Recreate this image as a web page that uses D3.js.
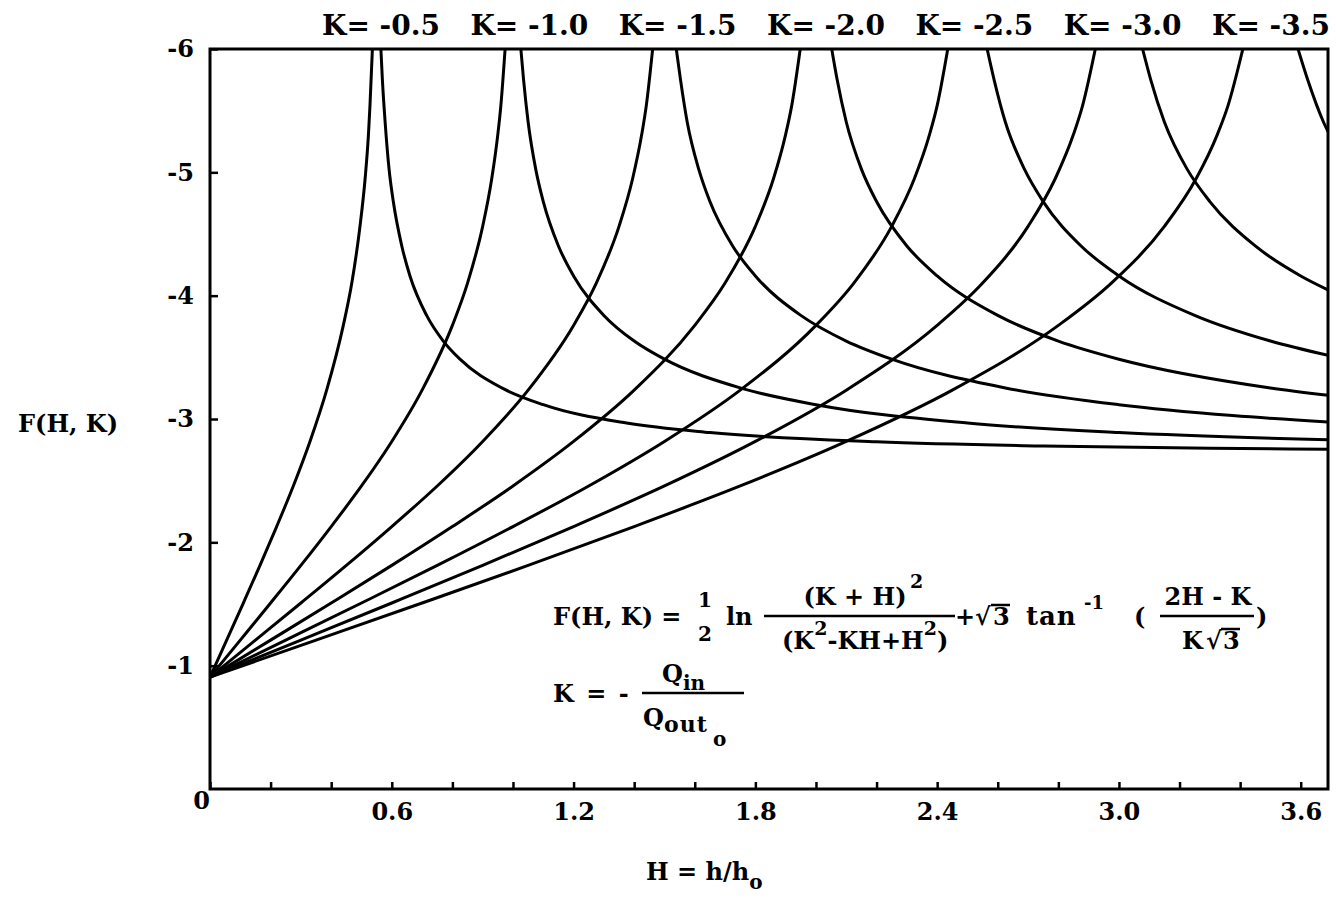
<!DOCTYPE html>
<html>
<head>
<meta charset="utf-8">
<script src="https://cdn.jsdelivr.net/npm/d3@7"></script>
<style>
  body { margin: 0; background: #fff; }
  svg text { font-family: "DejaVu Serif", serif; font-weight: bold; fill: #000; }
</style>
</head>
<body>
<svg id="chart"></svg>
<script>
// K labels along the top
const kLabels = ["K= -0.5", "K= -1.0", "K= -1.5", "K= -2.0", "K= -2.5", "K= -3.0", "K= -3.5"];

// curves, [H, F]: rising branch left of each asymptote, falling branch right of it
const k05Left  = [[0,-0.907],[0.055,-1.207],[0.11,-1.508],[0.165,-1.813],[0.22,-2.128],[0.275,-2.457],[0.33,-2.818],[0.385,-3.234],[0.44,-3.759],[0.468,-4.102],[0.495,-4.562],[0.512,-4.95],[0.523,-5.308],[0.528,-5.541],[0.536,-6.0]];
const k05Right = [[0.564,-6.0],[0.569,-5.75],[0.578,-5.408],[0.591,-5.026],[0.605,-4.763],[0.633,-4.403],[0.66,-4.16],[0.715,-3.84],[0.77,-3.632],[0.825,-3.485],[0.963,-3.252],[1.1,-3.116],[1.375,-2.967],[1.65,-2.89],[2.2,-2.815],[2.75,-2.781],[3.3,-2.763],[3.69,-2.754]];
const k10Left  = [[0,-0.907],[0.1,-1.207],[0.2,-1.508],[0.3,-1.813],[0.4,-2.128],[0.5,-2.457],[0.6,-2.818],[0.7,-3.234],[0.8,-3.759],[0.85,-4.102],[0.9,-4.562],[0.93,-4.95],[0.95,-5.308],[0.96,-5.541],[0.974,-6.0]];
const k10Right = [[1.026,-6.0],[1.035,-5.75],[1.05,-5.408],[1.075,-5.026],[1.1,-4.763],[1.15,-4.403],[1.2,-4.16],[1.3,-3.84],[1.4,-3.632],[1.5,-3.485],[1.75,-3.252],[2.0,-3.116],[2.5,-2.967],[3.0,-2.89],[3.69,-2.832]];
const k15Left  = [[0,-0.907],[0.15,-1.207],[0.3,-1.508],[0.45,-1.813],[0.6,-2.128],[0.75,-2.457],[0.9,-2.818],[1.05,-3.234],[1.2,-3.759],[1.275,-4.102],[1.35,-4.562],[1.395,-4.95],[1.425,-5.308],[1.44,-5.541],[1.461,-6.0]];
const k15Right = [[1.539,-6.0],[1.553,-5.75],[1.575,-5.408],[1.613,-5.026],[1.65,-4.763],[1.725,-4.403],[1.8,-4.16],[1.95,-3.84],[2.1,-3.632],[2.25,-3.485],[2.625,-3.252],[3.0,-3.116],[3.375,-3.028],[3.69,-2.976]];
const k20Left  = [[0,-0.907],[0.2,-1.207],[0.4,-1.508],[0.6,-1.813],[0.8,-2.128],[1.0,-2.457],[1.2,-2.818],[1.4,-3.234],[1.6,-3.759],[1.7,-4.102],[1.8,-4.562],[1.86,-4.95],[1.9,-5.308],[1.92,-5.541],[1.948,-6.0]];
const k20Right = [[2.052,-6.0],[2.07,-5.75],[2.1,-5.408],[2.15,-5.026],[2.2,-4.763],[2.3,-4.403],[2.4,-4.16],[2.6,-3.84],[2.8,-3.632],[3.0,-3.485],[3.5,-3.252],[3.69,-3.192]];
const k25Left  = [[0,-0.907],[0.25,-1.207],[0.5,-1.508],[0.75,-1.813],[1.0,-2.128],[1.25,-2.457],[1.5,-2.818],[1.75,-3.234],[2.0,-3.759],[2.125,-4.102],[2.25,-4.562],[2.325,-4.95],[2.375,-5.308],[2.4,-5.541],[2.435,-6.0]];
const k25Right = [[2.565,-6.0],[2.588,-5.75],[2.625,-5.408],[2.688,-5.026],[2.75,-4.763],[2.875,-4.403],[3.0,-4.16],[3.25,-3.84],[3.5,-3.632],[3.69,-3.516]];
const k30Left  = [[0,-0.907],[0.3,-1.207],[0.6,-1.508],[0.9,-1.813],[1.2,-2.128],[1.5,-2.457],[1.8,-2.818],[2.1,-3.234],[2.4,-3.759],[2.55,-4.102],[2.7,-4.562],[2.79,-4.95],[2.85,-5.308],[2.88,-5.541],[2.922,-6.0]];
const k30Right = [[3.078,-6.0],[3.105,-5.75],[3.15,-5.408],[3.225,-5.026],[3.3,-4.763],[3.45,-4.403],[3.6,-4.16],[3.69,-4.047]];
const k35Left  = [[0,-0.907],[0.35,-1.207],[0.7,-1.508],[1.05,-1.813],[1.4,-2.128],[1.75,-2.457],[2.1,-2.818],[2.45,-3.234],[2.8,-3.759],[2.975,-4.102],[3.15,-4.562],[3.255,-4.95],[3.325,-5.308],[3.36,-5.541],[3.409,-6.0]];
const k35Right = [[3.591,-6.0],[3.623,-5.75],[3.675,-5.408],[3.69,-5.33]];

const curves = [k05Left, k05Right, k10Left, k10Right, k15Left, k15Right, k20Left, k20Right,
                k25Left, k25Right, k30Left, k30Right, k35Left, k35Right];

// axis ticks
const xTicks = [0, 0.2, 0.4, 0.6, 0.8, 1.0, 1.2, 1.4, 1.6, 1.8, 2.0, 2.2, 2.4, 2.6, 2.8, 3.0, 3.2, 3.4, 3.6];
const xTickLabels = ["0", "", "", "0.6", "", "", "1.2", "", "", "1.8", "", "", "2.4", "", "", "3.0", "", "", "3.6"];
const yTicks = [-1, -2, -3, -4, -5, -6];
const yTickLabels = ["-1", "-2", "-3", "-4", "-5", "-6"];

const W = 1336, H = 920;
const margin = {top: 49, right: 8, bottom: 131, left: 210};
const width = W - margin.left - margin.right;
const height = H - margin.top - margin.bottom;

const svg = d3.select("#chart").attr("width", W).attr("height", H);
const chart = svg.append("g").attr("transform", `translate(${margin.left},${margin.top})`);

const x = d3.scaleLinear().domain([0, 3.69]).range([0, width]);
const y = d3.scaleLinear().domain([0, -6]).range([height, 0]);

chart.append("clipPath").attr("id", "plot")
  .append("rect").attr("width", width).attr("height", height);

// axes
const xAxis = d3.axisBottom(x)
  .tickValues(xTicks)
  .tickSizeInner(-7).tickSizeOuter(0).tickPadding(14)
  .tickFormat((d, i) => xTickLabels[i]);
const yAxis = d3.axisLeft(y)
  .tickValues(yTicks)
  .tickSizeInner(-8).tickSizeOuter(0).tickPadding(16)
  .tickFormat((d, i) => yTickLabels[i]);

const gx = chart.append("g").attr("transform", `translate(0,${height})`).call(xAxis);
const gy = chart.append("g").call(yAxis);
[gx, gy].forEach(g => {
  g.select(".domain").remove();
  g.selectAll(".tick line").attr("stroke", "#000").attr("stroke-width", 2.5);
  g.selectAll(".tick text").attr("font-size", 24).attr("font-family", null);
});
gx.selectAll(".tick text").attr("dy", "0.71em");
// the corner "0" sits higher and a little left
gx.selectAll(".tick").filter(d => d === 0).select("text").attr("dx", -9).attr("y", 3);

// frame
chart.append("rect")
  .attr("width", width).attr("height", height)
  .attr("fill", "none").attr("stroke", "#000").attr("stroke-width", 3);

// curves
const line = d3.line()
  .x(d => x(d[0]))
  .y(d => y(d[1]))
  .curve(d3.curveMonotoneX);

chart.append("g").attr("clip-path", "url(#plot)")
  .selectAll("path")
  .data(curves)
  .join("path")
  .attr("d", line)
  .attr("fill", "none")
  .attr("stroke", "#000")
  .attr("stroke-width", 3)
  .attr("stroke-linejoin", "round");

// K labels
const kPos = d3.scalePoint().domain(kLabels).range([381 - margin.left, 1271 - margin.left]);
chart.append("g").selectAll("text")
  .data(kLabels)
  .join("text")
  .attr("x", d => kPos(d))
  .attr("y", -14)
  .attr("text-anchor", "middle")
  .attr("font-size", 28)
  .text(d => d);

// axis titles
svg.append("text").attr("x", 18).attr("y", 432).attr("font-size", 24).text("F(H, K)");
const xt = svg.append("text").attr("x", 646).attr("y", 880).attr("font-size", 24);
xt.append("tspan").text("H = h/h");
xt.append("tspan").attr("font-size", 20).attr("dy", 9).text("o");

// formula annotation
function txt(px, py, s, size, anchor) {
  return svg.append("text").attr("x", px).attr("y", py)
    .attr("font-size", size).attr("text-anchor", anchor || "start").text(s);
}
function bar(x1, x2, py) {
  svg.append("line").attr("x1", x1).attr("x2", x2).attr("y1", py).attr("y2", py)
    .attr("stroke", "#000").attr("stroke-width", 2.5);
}
const b1 = 625;
txt(553, b1, "F(H, K) =", 24);
txt(705, b1 - 18, "1", 20, "middle");
txt(705, b1 + 16, "2", 20, "middle");
txt(726, b1, "ln", 24);
bar(764, 955, b1 - 9);
txt(855, b1 - 20, "(K + H)", 24, "middle");
txt(910, b1 - 37, "2", 19);
const den = svg.append("text").attr("x", 782).attr("y", b1 + 24).attr("font-size", 24);
den.append("tspan").text("(K");
den.append("tspan").attr("font-size", 19).attr("dy", -14).text("2");
den.append("tspan").attr("dy", 14).text("-KH+H");
den.append("tspan").attr("font-size", 19).attr("dy", -14).text("2");
den.append("tspan").attr("dy", 14).text(")");
txt(955, b1, "+", 24);
txt(975, b1, "√", 24);
bar(991, 1010, b1 - 20);
txt(993, b1, "3", 24);
txt(1026, b1, "tan", 26).attr("letter-spacing", 1);
txt(1084, b1 - 16, "-1", 18);
txt(1134, b1, "(", 24);
txt(1208, b1 - 20, "2H - K", 24, "middle");
bar(1160, 1254, b1 - 9);
txt(1182, b1 + 24, "K", 24);
txt(1206, b1 + 24, "√", 24);
bar(1221, 1240, b1 + 4);
txt(1223, b1 + 24, "3", 24);
txt(1256, b1, ")", 24);

const b2 = 702;
txt(553, b2, "K = -", 24).attr("letter-spacing", 2);
bar(642, 744, b2 - 9);
txt(662, b2 - 20, "Q", 24);
txt(683, b2 - 12, "in", 20);
txt(643, b2 + 24, "Q", 24);
txt(664, b2 + 30, "out", 22).attr("letter-spacing", 1);
txt(713, b2 + 44, "o", 20);
</script>
</body>
</html>
